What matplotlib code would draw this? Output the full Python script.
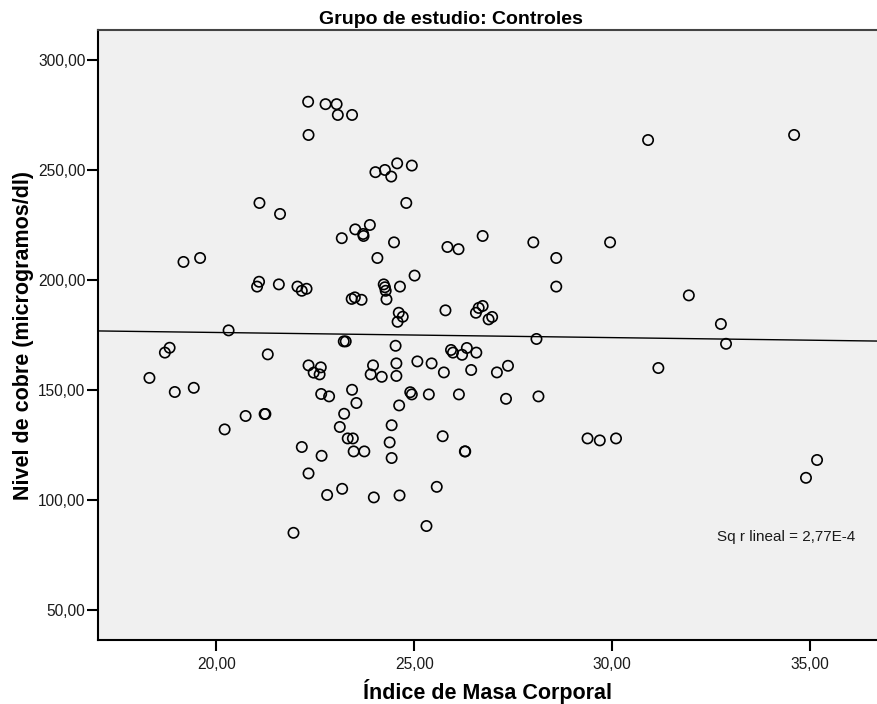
import numpy as np
import matplotlib
matplotlib.use("Agg")
import matplotlib.pyplot as plt
from matplotlib.ticker import FixedLocator, FuncFormatter

# Data (IMC vs nivel de cobre)
imc = [22.32, 22.76, 23.04, 23.07, 23.43, 22.33, 30.91, 34.60, 24.02, 24.26,
       24.57, 24.42, 24.94, 24.80, 21.09, 21.61, 23.88, 23.51, 23.71, 23.72,
       23.17, 24.49, 26.73, 25.84, 26.12, 28.01, 29.95, 24.07, 28.59, 19.17,
       19.59, 25.01, 21.08, 21.03, 21.58, 22.05, 22.16, 22.28, 24.23, 24.26,
       24.28, 24.64, 28.59, 31.94, 24.30, 23.42, 23.50, 23.67, 24.61, 24.71,
       24.58, 25.79, 26.56, 26.63, 26.73, 26.88, 26.97, 32.75, 20.31, 28.09,
       32.88, 23.22, 23.27, 18.82, 18.70, 21.30, 24.53, 25.93, 25.98, 26.21,
       26.33, 26.57, 22.33, 22.64, 22.46, 22.61, 23.96, 23.90, 24.18, 18.31,
       24.55, 25.08, 25.44, 25.75, 26.44, 27.09, 27.37, 31.17, 24.55, 18.95,
       19.43, 20.21, 20.74, 21.22, 21.24, 22.65, 22.85, 23.43, 23.54, 23.23,
       23.12, 23.32, 23.45, 22.16, 22.66, 23.47, 23.74, 22.33, 22.80, 23.18,
       23.98, 21.95, 24.43, 24.38, 24.43, 24.90, 24.94, 25.37, 26.13, 27.32,
       28.14, 24.62, 25.72, 26.28, 26.29, 29.38, 29.69, 30.10, 25.57, 24.63,
       25.31, 35.18, 34.90]
cobre = [281.0, 279.9, 279.9, 275.0, 275.0, 265.9, 263.6, 265.9, 249.0, 250.0,
         253.0, 247.0, 252.0, 235.0, 235.0, 230.0, 225.0, 223.0, 220.9, 220.0,
         219.0, 217.1, 220.0, 215.0, 214.0, 217.1, 217.1, 210.0, 210.0, 208.2,
         210.0, 202.0, 199.2, 197.0, 198.0, 197.0, 195.1, 196.0, 198.0, 196.7,
         195.1, 197.0, 197.0, 193.0, 191.2, 191.4, 192.1, 191.0, 185.1, 183.3,
         181.0, 186.2, 185.1, 187.3, 188.2, 182.1, 183.2, 180.0, 177.1, 173.2,
         171.0, 172.1, 172.1, 169.2, 167.0, 166.2, 170.1, 168.2, 167.0, 166.0,
         169.1, 167.0, 161.2, 160.3, 157.9, 157.1, 161.2, 157.1, 156.0, 155.5,
         162.1, 163.0, 162.1, 158.0, 159.1, 158.0, 161.0, 160.0, 156.4, 149.1,
         151.0, 132.1, 138.2, 139.1, 139.1, 148.2, 147.1, 150.1, 144.1, 139.2,
         133.2, 128.0, 128.0, 124.1, 120.1, 122.1, 122.1, 112.1, 102.3, 105.1,
         101.2, 85.1, 134.0, 126.2, 119.1, 149.0, 148.0, 148.0, 148.0, 146.0,
         147.1, 143.0, 129.0, 122.1, 122.1, 128.0, 127.1, 128.0, 106.0, 102.1,
         88.2, 118.2, 110.1]

x_ticks = [20, 25, 30, 35]
y_ticks = [50, 100, 150, 200, 250, 300]
title = "Grupo de estudio: Controles"
xlabel = "Índice de Masa Corporal"
ylabel = "Nivel de cobre (microgramos/dl)"
r2_text = "Sq r lineal = 2,77E-4"

plt.rcParams['font.family'] = ['Liberation Sans', 'DejaVu Sans']

fig = plt.figure(figsize=(8.78, 7.04), dpi=100)
ax = fig.add_axes([98/878, 64/704, 780/878, 610/704])
ax.set_facecolor('#f0f0f0')

x = np.array(imc)
y = np.array(cobre)
ax.scatter(x, y, s=55, facecolors='none', edgecolors='black', linewidths=1.2, zorder=3)

xlim = (17.01, 36.72)
ylim = (36.4, 313.6)
coef = np.polyfit(x, y, 1)
xx = np.array(xlim)
ax.plot(xx, np.polyval(coef, xx), color='black', lw=1.0, zorder=2)

ax.set_xlim(*xlim)
ax.set_ylim(*ylim)
ax.xaxis.set_major_locator(FixedLocator(x_ticks))
ax.yaxis.set_major_locator(FixedLocator(y_ticks))
fmt = FuncFormatter(lambda v, p: f"{v:.2f}".replace('.', ','))
ax.xaxis.set_major_formatter(fmt)
ax.yaxis.set_major_formatter(fmt)
ax.tick_params(axis='both', direction='out', length=8, width=1.5, labelsize=11.2,
               pad=1.0, colors='black')
ax.tick_params(axis='x', pad=4)
for lab in ax.get_xticklabels() + ax.get_yticklabels():
    lab.set_color('#1a1a1a')

for s in ['left', 'bottom']:
    ax.spines[s].set_linewidth(1.5)
    ax.spines[s].set_color('black')
ax.spines['top'].set_linewidth(1.5)
ax.spines['top'].set_color('#444444')
ax.spines['right'].set_visible(False)

fig.text(451/878, 1 - 24/704, title, fontsize=14, fontweight='bold',
         ha='center', va='baseline')
ax.set_xlabel(xlabel, fontsize=15.5, fontweight='bold', labelpad=5)
ax.set_ylabel(ylabel, fontsize=15.5, fontweight='bold', labelpad=3)

ax.text(32.64, 83.0, r2_text, fontsize=11, ha='left', va='center', color='#1a1a1a')

fig.savefig('out.png', dpi=100)
